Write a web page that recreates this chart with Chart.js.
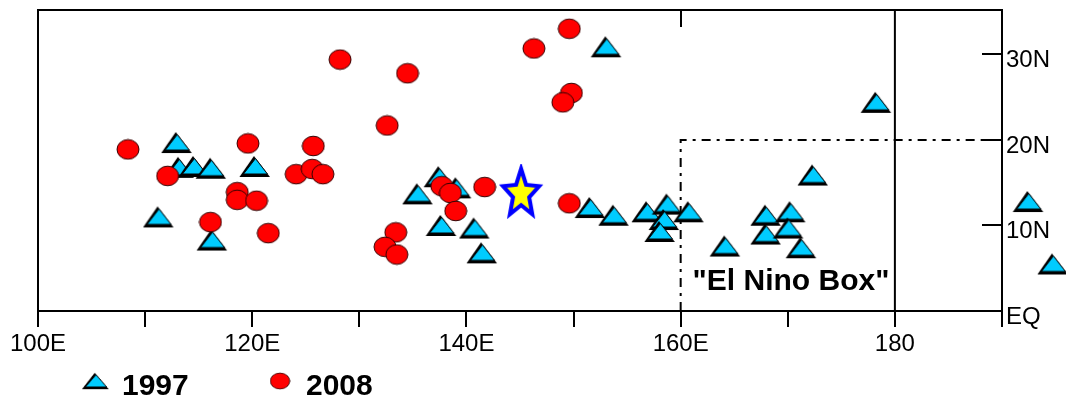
<!DOCTYPE html>
<html>
<head>
<meta charset="utf-8">
<script src="https://cdn.jsdelivr.net/npm/chart.js@4/dist/chart.umd.min.js"></script>
<style>
html, body { margin: 0; padding: 0; background: #fff; }
#wrap { width: 1066px; height: 401px; }
</style>
</head>
<body>
<div id="wrap"><canvas id="myChart" width="1066" height="401"></canvas></div>
<script>
// 1997 storm formation points (longitude E, latitude N)
const lon1997 = [113.0, 113.2, 114.6, 116.2, 120.3, 111.3, 116.3,
    135.5, 137.5, 139.1, 137.7, 140.8, 141.5,
    153.1, 151.6, 153.8, 156.9, 158.8, 158.5, 158.1, 160.8, 164.2,
    168.0, 168.0, 170.3, 170.1, 171.3, 172.4, 178.3, 192.5, 194.8];
const lat1997 = [19.7, 16.8, 16.9, 16.7, 16.9, 11.0, 8.3,
    13.7, 15.7, 14.4, 10.0, 9.7, 6.8,
    30.9, 12.1, 11.2, 11.6, 12.5, 10.7, 9.3, 11.6, 7.6,
    11.2, 9.0, 11.6, 9.7, 7.4, 15.9, 24.4, 12.8, 5.5];

// 2008 storm formation points
const lon2008 = [108.4, 119.6, 112.1, 118.6, 118.6, 120.4, 116.1, 121.5,
    128.2, 134.5, 132.6, 125.7, 124.1, 125.6, 126.6, 146.3,
    137.7, 138.5, 139.0, 141.7, 133.4, 132.4, 133.5,
    149.6, 149.8, 149.0, 149.6];
const lat2008 = [18.9, 19.6, 15.8, 13.9, 13.0, 12.9, 10.4, 9.1,
    29.4, 27.8, 21.7, 19.3, 16.0, 16.6, 16.0, 30.7,
    14.6, 13.8, 11.7, 14.5, 9.2, 7.5, 6.6,
    33.0, 25.5, 24.4, 12.6];

// star marker
const starLon = [145.1];
const starLat = [13.7];

const xTickValues = [100, 120, 140, 160, 180];
const xTickLabels = ['100E', '120E', '140E', '160E', '180'];
const yTickValues = [0, 10, 20, 30];
const yTickLabels = ['EQ', '10N', '20N', '30N'];

const dateLineLon = 180;
const boxWestLon = 160;
const boxNorthLat = 20;
const boxLabel = '"El Nino Box"';
const boxLabelLon = 170.3;
const boxLabelLat = 3.4;

const FONT = '"Liberation Sans", Arial, sans-serif';

/**
 * Builds the cyan triangle marker.
 */
const makeTriangle = () => {
    const c = document.createElement('canvas');
    c.width = 33;
    c.height = 23;
    const ctx = c.getContext('2d');
    ctx.fillStyle = '#000';
    ctx.beginPath();
    ctx.moveTo(15, 1);
    ctx.lineTo(0.5, 22);
    ctx.lineTo(31, 22);
    ctx.closePath();
    ctx.fill();
    ctx.fillStyle = '#00ccff';
    ctx.strokeStyle = '#000';
    ctx.lineWidth = 1;
    ctx.beginPath();
    ctx.moveTo(16.5, 3.5);
    ctx.lineTo(4.5, 19);
    ctx.lineTo(28.5, 19);
    ctx.closePath();
    ctx.fill();
    ctx.stroke();
    return c;
};

/**
 * Builds the red circle marker.
 */
const makeCircle = () => {
    const c = document.createElement('canvas');
    c.width = 24;
    c.height = 22;
    const ctx = c.getContext('2d');
    ctx.fillStyle = '#ff0000';
    ctx.strokeStyle = '#330000';
    ctx.lineWidth = 1;
    ctx.beginPath();
    ctx.ellipse(12, 11, 11, 9.8, 0, 0, Math.PI * 2);
    ctx.fill();
    ctx.stroke();
    return c;
};

/**
 * Builds the yellow star with blue outline.
 */
const makeStar = () => {
    const c = document.createElement('canvas');
    c.width = 46;
    c.height = 60;
    const ctx = c.getContext('2d');
    const R = 19;
    const r = 8.5;
    const sy = 1.32;
    ctx.beginPath();
    for (let k = 0; k < 10; k++) {
        const a = -Math.PI / 2 + k * Math.PI / 5;
        const rad = k % 2 === 0 ? R : r;
        const px = 23 + Math.cos(a) * rad;
        const py = 30 + Math.sin(a) * rad * sy;
        if (k === 0) {
            ctx.moveTo(px, py);
        } else {
            ctx.lineTo(px, py);
        }
    }
    ctx.closePath();
    ctx.fillStyle = '#ffff00';
    ctx.strokeStyle = '#0000ff';
    ctx.lineWidth = 4;
    ctx.lineJoin = 'miter';
    ctx.fill();
    ctx.stroke();
    return c;
};

const triangleImg = makeTriangle();
const circleImg = makeCircle();
const starImg = makeStar();

/**
 * Turns two lists into scatter points.
 */
const toPoints = (xs, ys) => xs.map((x, i) => ({ x: x, y: ys[i] }));

/**
 * Draws the date line and the dash-dot El Nino box.
 */
const boxPlugin = {
    id: 'elNinoBox',
    beforeDatasetsDraw: (chart) => {
        const { ctx, chartArea, scales } = chart;
        const xs = scales.x;
        const ys = scales.y;
        ctx.save();
        ctx.strokeStyle = '#000';
        ctx.lineWidth = 2;

        const xd = xs.getPixelForValue(dateLineLon);
        ctx.beginPath();
        ctx.moveTo(xd, chartArea.top);
        ctx.lineTo(xd, chartArea.bottom);
        ctx.stroke();

        const xb = xs.getPixelForValue(boxWestLon);
        const yb = ys.getPixelForValue(boxNorthLat);
        ctx.setLineDash([9, 6, 3, 6]);
        ctx.beginPath();
        ctx.moveTo(xb, chartArea.bottom);
        ctx.lineTo(xb, yb);
        ctx.lineTo(chartArea.right, yb);
        ctx.stroke();
        ctx.setLineDash([]);

        ctx.fillStyle = '#000';
        ctx.font = 'bold 30px ' + FONT;
        ctx.textAlign = 'center';
        ctx.textBaseline = 'middle';
        ctx.fillText(boxLabel, xs.getPixelForValue(boxLabelLon), ys.getPixelForValue(boxLabelLat));
        ctx.restore();
    },
};

/**
 * Draws the legend under the axis.
 */
const legendPlugin = {
    id: 'bottomLegend',
    afterDraw: (chart) => {
        const ctx = chart.ctx;
        const markerX = [96, 280];
        const markerY = 381;
        ctx.save();
        ctx.fillStyle = '#000';
        ctx.font = 'bold 30px ' + FONT;
        ctx.textAlign = 'left';
        ctx.textBaseline = 'middle';
        const items = chart.data.datasets.filter((d) => d.showInLegend);
        items.forEach((d, i) => {
            const img = d.pointStyle;
            const w = i === 0 ? 29 : 21;
            const h = 18;
            ctx.drawImage(img, markerX[i] - w / 2, markerY - h / 2, w, h);
            ctx.fillText(d.label, markerX[i] + 26, markerY + 6);
        });
        ctx.restore();
    },
};

/**
 * Fixes an axis size and drops the label overhang padding.
 */
const fixSize = (prop, size) => (scale) => {
    scale[prop] = size;
    scale.paddingTop = 0;
    scale.paddingBottom = 0;
    scale.paddingLeft = 0;
    scale.paddingRight = 0;
};

const tickFont = { family: FONT, size: 24 };

const config = {
    type: 'scatter',
    data: {
        datasets: [
            {
                label: '1997',
                data: toPoints(lon1997, lat1997),
                pointStyle: triangleImg,
                pointRadius: 60,
                clip: false,
                order: 2,
                showInLegend: true,
                xAxisID: 'x',
                yAxisID: 'y',
            },
            {
                label: '2008',
                data: toPoints(lon2008, lat2008),
                pointStyle: circleImg,
                pointRadius: 20,
                clip: false,
                order: 1,
                showInLegend: true,
                xAxisID: 'x',
                yAxisID: 'y',
            },
            {
                label: 'star',
                data: toPoints(starLon, starLat),
                pointStyle: starImg,
                pointRadius: 20,
                clip: false,
                order: 0,
                showInLegend: false,
                xAxisID: 'x',
                yAxisID: 'y',
            },
        ],
    },
    options: {
        responsive: false,
        animation: false,
        events: [],
        layout: { padding: 0, autoPadding: false },
        plugins: {
            legend: { display: false },
            tooltip: { enabled: false },
        },
        scales: {
            x: {
                type: 'linear',
                position: 'bottom',
                min: 100,
                max: 190,
                afterFit: fixSize('height', 90),
                border: { display: true, color: '#000', width: 2 },
                grid: {
                    drawOnChartArea: false,
                    drawTicks: true,
                    tickLength: 16,
                    color: '#000',
                    lineWidth: 2,
                },
                ticks: {
                    stepSize: 10,
                    autoSkip: false,
                    maxRotation: 0,
                    padding: 3,
                    color: '#000',
                    font: tickFont,
                    callback: (value) => {
                        const i = xTickValues.indexOf(value);
                        return i >= 0 ? xTickLabels[i] : '';
                    },
                },
            },
            x2: {
                type: 'linear',
                position: 'top',
                min: 100,
                max: 190,
                afterFit: fixSize('height', 10),
                afterBuildTicks: (scale) => {
                    scale.ticks = [{ value: boxWestLon }];
                },
                border: { display: true, color: '#000', width: 2 },
                grid: {
                    drawOnChartArea: false,
                    drawTicks: true,
                    tickLength: -17,
                    color: '#000',
                    lineWidth: 2,
                },
                ticks: { display: false },
            },
            yL: {
                type: 'linear',
                position: 'left',
                min: 0,
                max: 35.2,
                afterFit: fixSize('width', 38),
                border: { display: true, color: '#000', width: 2 },
                grid: { display: false },
                ticks: { display: false },
            },
            y: {
                type: 'linear',
                position: 'right',
                min: 0,
                max: 35.2,
                afterFit: fixSize('width', 64),
                afterBuildTicks: (scale) => {
                    scale.ticks = yTickValues.map((v) => ({ value: v }));
                },
                border: { display: true, color: '#000', width: 2 },
                grid: {
                    drawOnChartArea: false,
                    drawTicks: true,
                    tickLength: -20,
                    color: '#000',
                    lineWidth: 2,
                },
                ticks: {
                    padding: 24,
                    labelOffset: 6,
                    color: '#000',
                    font: tickFont,
                    callback: (value) => {
                        const i = yTickValues.indexOf(value);
                        return i >= 0 ? yTickLabels[i] : '';
                    },
                },
            },
        },
    },
    plugins: [boxPlugin, legendPlugin],
};

const chart = new Chart(document.getElementById('myChart'), config);
</script>
</body>
</html>
